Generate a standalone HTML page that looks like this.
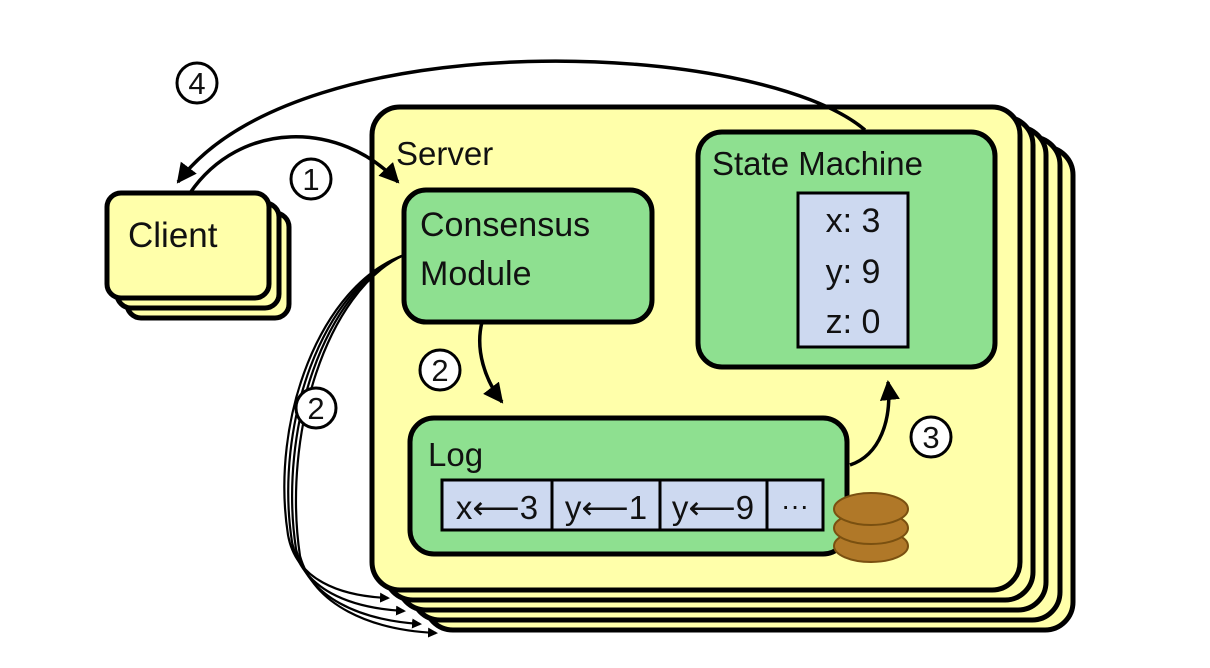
<!DOCTYPE html>
<html><head><meta charset="utf-8"><style>
html,body{margin:0;padding:0;background:#fff;}
svg{display:block;}
text{font-family:"Liberation Sans",sans-serif;fill:#111;}
</style></head><body>
<svg width="1210" height="668" viewBox="0 0 1210 668" xmlns="http://www.w3.org/2000/svg">
<defs>
<marker id="ah" markerWidth="10" markerHeight="10" refX="8" refY="5" orient="auto" markerUnits="userSpaceOnUse">
<path d="M0,0 L10,5 L0,10 Z" fill="#000"/></marker>
<marker id="ahB" markerWidth="22" markerHeight="20" refX="18" refY="10" orient="auto" markerUnits="userSpaceOnUse">
<path d="M0,0 L20,10 L0,20 Z" fill="#000"/></marker>
</defs>
<g stroke="#000" stroke-width="5" fill="#ffffaa">
<rect x="425" y="147" width="648" height="483" rx="28"/>
<rect x="412" y="137" width="648" height="483" rx="28"/>
<rect x="398" y="127" width="648" height="483" rx="28"/>
<rect x="385" y="117" width="648" height="483" rx="28"/>
<rect x="372" y="107" width="648" height="483" rx="28"/>
</g>
<g stroke="#000" stroke-width="5" fill="#ffffaa">
<rect x="127" y="213" width="162" height="105" rx="14"/>
<rect x="117" y="203" width="162" height="105" rx="14"/>
<rect x="107" y="193" width="162" height="105" rx="14"/>
</g>
<text x="128" y="247" font-size="35">Client</text>
<text x="396" y="165" font-size="33">Server</text>
<rect x="404" y="190" width="248" height="132" rx="22" fill="#8ee090" stroke="#000" stroke-width="5"/>
<text x="420" y="236" font-size="34">Consensus</text>
<text x="420" y="285" font-size="34">Module</text>
<rect x="698" y="132" width="297" height="235" rx="24" fill="#8ee090" stroke="#000" stroke-width="5"/>
<text x="712" y="175" font-size="33">State Machine</text>
<rect x="798" y="193" width="110" height="154" fill="#cdd9f0" stroke="#000" stroke-width="3"/>
<text x="853" y="232" font-size="34" text-anchor="middle">x: 3</text>
<text x="853" y="283" font-size="34" text-anchor="middle">y: 9</text>
<text x="853" y="333" font-size="34" text-anchor="middle">z: 0</text>
<rect x="410" y="418" width="437" height="136" rx="24" fill="#8ee090" stroke="#000" stroke-width="5"/>
<text x="428" y="466" font-size="33">Log</text>
<rect x="442" y="480" width="381" height="50" fill="#cdd9f0" stroke="#000" stroke-width="3"/>
<line x1="552" y1="480" x2="552" y2="530" stroke="#000" stroke-width="3"/>
<line x1="660" y1="480" x2="660" y2="530" stroke="#000" stroke-width="3"/>
<line x1="767" y1="480" x2="767" y2="530" stroke="#000" stroke-width="3"/>
<text x="497" y="519" font-size="33" text-anchor="middle">x⟵3</text>
<text x="606" y="519" font-size="33" text-anchor="middle">y⟵1</text>
<text x="713" y="519" font-size="33" text-anchor="middle">y⟵9</text>
<text x="795" y="515" font-size="28" text-anchor="middle">···</text>
<g fill="#b07828" stroke="#7a5010" stroke-width="2">
<ellipse cx="871" cy="546" rx="37" ry="16"/>
<ellipse cx="871" cy="528" rx="37" ry="16"/>
<ellipse cx="871" cy="509" rx="37" ry="16"/>
</g>
<g fill="none" stroke="#000" stroke-width="3.5">
<path d="M190,193 C240,120 340,120 398,182" marker-end="url(#ahB)"/>
<path d="M865,130 C760,40 300,20 178,182" marker-end="url(#ahB)"/>
<path d="M482,322 C475,350 485,380 502,402" marker-end="url(#ahB)"/>
<path d="M850,465 C880,455 892,420 888,382" marker-end="url(#ahB)"/>
</g>
<g fill="none" stroke="#000" stroke-width="2.2">
<path d="M404,255 C320,285 270,420 288,535 C296,580 340,596 388,598" marker-end="url(#ah)"/>
<path d="M404,255 C322,287 274,425 292,542 C302,590 350,608 404,611" marker-end="url(#ah)"/>
<path d="M404,255 C324,289 278,430 296,549 C308,598 360,620 420,624" marker-end="url(#ah)"/>
<path d="M404,255 C326,291 282,435 300,556 C314,605 370,630 436,633" marker-end="url(#ah)"/>
</g>
<g fill="#fff" stroke="#000" stroke-width="3">
<circle cx="197" cy="83" r="20"/>
<circle cx="311" cy="179" r="20"/>
<circle cx="440" cy="370" r="20"/>
<circle cx="316" cy="408" r="20"/>
<circle cx="931" cy="437" r="20"/>
</g>
<g font-size="31" text-anchor="middle">
<text x="197" y="94">4</text>
<text x="311" y="190">1</text>
<text x="440" y="381">2</text>
<text x="316" y="419">2</text>
<text x="931" y="448">3</text>
</g>
</svg>
</body></html>
